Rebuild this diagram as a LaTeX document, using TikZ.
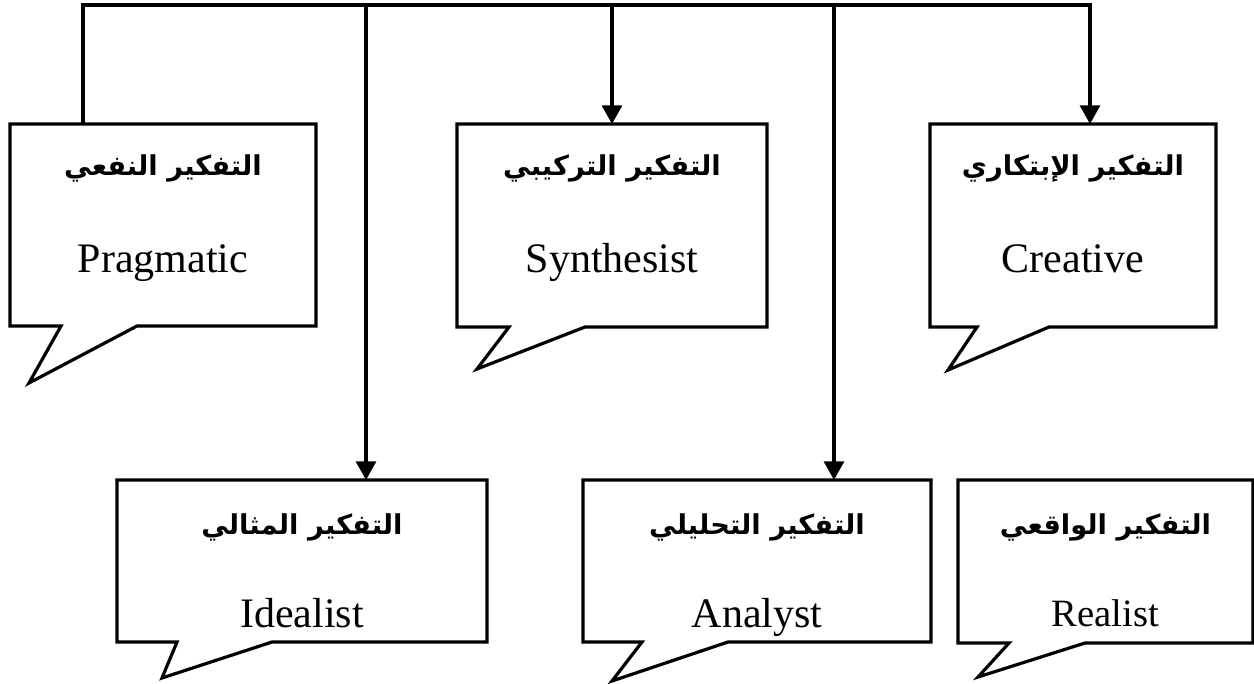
\documentclass[tikz,border=0pt]{standalone}
\usepackage{fontspec}
\setmainfont{Liberation Serif}
\newfontfamily\arabicfont[Script=Arabic]{DejaVu Sans}
\TeXXeTstate=1
\usetikzlibrary{arrows.meta,calc}
\begin{document}
\begin{tikzpicture}[x=0.75pt,y=-0.75pt,
  line width=2.4pt, line join=miter,
  boxarea/.style={draw=none,inner sep=0pt,outer sep=0pt,anchor=north west},
  callout/.style={draw=black,fill=white,line width=2.4pt},
  artext/.style={font=\arabicfont\bfseries\fontsize{20.5}{24}\selectfont,inner sep=0pt},
  entext/.style={font=\fontsize{31.5}{36}\selectfont,inner sep=0pt,anchor=base},
  conn/.style={draw=black,line width=2.4pt},
  arr/.style={conn,-{Triangle[length=14pt,width=15pt]}}]
\useasboundingbox (0,0) rectangle (1254,683);

% boxes
\node[boxarea,minimum width=229.5pt,minimum height=151.5pt] (bP) at (10,124) {};
\node[boxarea,minimum width=232.5pt,minimum height=152.25pt] (bS) at (457,124) {};
\node[boxarea,minimum width=214.5pt,minimum height=152.25pt] (bC) at (930,124) {};
\node[boxarea,minimum width=277.5pt,minimum height=121.5pt] (bI) at (117,480) {};
\node[boxarea,minimum width=261pt,minimum height=121.5pt] (bA) at (583,480) {};
\node[boxarea,minimum width=221.25pt,minimum height=122.25pt] (bR) at (958,480) {};

% callout outlines: tail given relative to south west (x-offsets) and tip
\newcommand{\calloutshape}[4]{%
  \path[callout] (#1.north west) -- (#1.north east) -- (#1.south east)
    -- ($(#1.south west)+(#3,0)$) -- #4 -- ($(#1.south west)+(#2,0)$) -- (#1.south west) -- cycle;}
\calloutshape{bP}{51}{127}{(29,383)}
\calloutshape{bS}{52}{128}{(477,369)}
\calloutshape{bC}{47}{119}{(948,370)}
\calloutshape{bI}{60}{155}{(162,678)}
\calloutshape{bA}{59}{145}{(612,681)}
\calloutshape{bR}{51}{127}{(978,677)}

% texts
\node[artext] (aP) at ($(bP.north)+(0,44)$) {\beginR التفكير النفعي\endR};
\node[entext] (eP) at ($(bP.north)+(0,148)$) {Pragmatic};
\node[artext] (aS) at ($(bS.north)+(0,44)$) {\beginR التفكير التركيبي\endR};
\node[entext] (eS) at ($(bS.north)+(0,148)$) {Synthesist};
\node[artext] (aC) at ($(bC.north)+(0,44)$) {\beginR التفكير الإبتكاري\endR};
\node[entext] (eC) at ($(bC.north)+(0,148)$) {Creative};
\node[artext] (aI) at ($(bI.north)+(0,47)$) {\beginR التفكير المثالي\endR};
\node[entext] (eI) at ($(bI.north)+(0,147)$) {Idealist};
\node[artext] (aA) at ($(bA.north)+(0,47)$) {\beginR التفكير التحليلي\endR};
\node[entext] (eA) at ($(bA.north)+(0,147)$) {Analyst};
\node[artext] (aR) at ($(bR.north)+(0,47)$) {\beginR التفكير الواقعي\endR};
\node[entext,font=\fontsize{29}{33}\selectfont] (eR) at ($(bR.north)+(0,146)$) {Realist};

% connectors
\coordinate (jP) at (83,5);
\coordinate (jI) at (366,5);
\coordinate (jS) at (612,5);
\coordinate (jA) at (834,5);
\coordinate (jC) at (1090,5);
\draw[arr] (jP |- bP.north) -- (jP) -- (jC) -- (jC |- bC.north);
\draw[arr] (jS) -- (jS |- bS.north);
\draw[arr] (jI) -- (jI |- bI.north);
\draw[arr] (jA) -- (jA |- bA.north);
\end{tikzpicture}
\end{document}
